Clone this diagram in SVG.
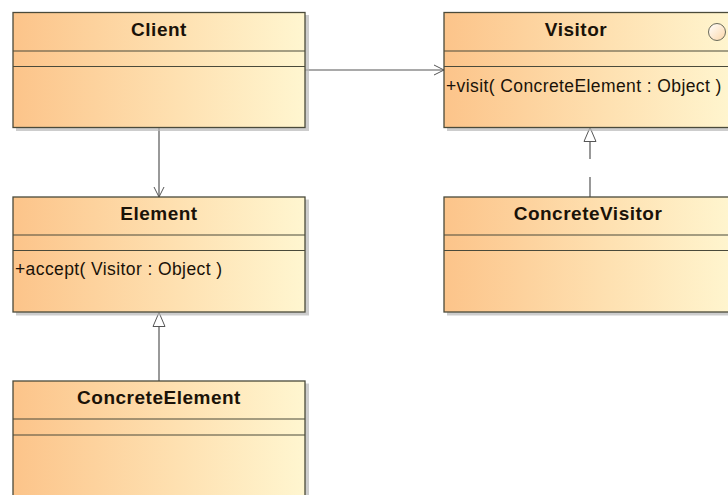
<svg xmlns="http://www.w3.org/2000/svg" width="728" height="495" viewBox="0 0 728 495">
<defs>
<linearGradient id="fill" x1="0" y1="0" x2="1" y2="0">
<stop offset="0" stop-color="#fcc48a"/>
<stop offset="0.55" stop-color="#fee0b0"/>
<stop offset="1" stop-color="#fff6d0"/>
</linearGradient>
<linearGradient id="circ" x1="0" y1="0" x2="1" y2="1">
<stop offset="0" stop-color="#ffffff"/>
<stop offset="1" stop-color="#fcd6a8"/>
</linearGradient>
<marker id="open" viewBox="0 0 12 12" refX="11" refY="6" markerWidth="12" markerHeight="12" markerUnits="userSpaceOnUse" orient="auto">
<path d="M1,1 L11,6 L1,11" fill="none" stroke="#555" stroke-width="1"/>
</marker>
<marker id="tri" viewBox="0 0 16 14" refX="15" refY="7" markerWidth="16" markerHeight="14" markerUnits="userSpaceOnUse" orient="auto">
<path d="M1,1 L15,7 L1,13 Z" fill="#fff" stroke="#555" stroke-width="1"/>
</marker>
</defs>
<style>
.shadow{fill:#b8b8b8;opacity:0.7}
.box{fill:url(#fill);stroke:#4a4a3a;stroke-width:1.3}
.div{stroke:#4a4a3a;stroke-width:1.2}
.title{font-family:"Liberation Sans",Arial,sans-serif;font-weight:bold;font-size:19px;letter-spacing:0.5px;fill:#1a1208;text-anchor:middle}
.op{font-family:"Liberation Sans",Arial,sans-serif;font-size:17.5px;letter-spacing:0.4px;fill:#1a1208}
.edge{fill:none;stroke:#555;stroke-width:1.2}
</style>
<rect width="728" height="495" fill="#fff"/>
<g id="connectors">
<path class="edge" d="M305,70 L444,70" marker-end="url(#open)"/>
<path class="edge" d="M159,128 L159,197" marker-end="url(#open)"/>
<path class="edge" d="M159,381 L159,312.5" marker-end="url(#tri)"/>
<path class="edge" d="M590,197 L590,127.5" stroke-dasharray="20,18" marker-end="url(#tri)"/>
</g>
<g id="Client">
<rect class="shadow" x="16" y="15" width="293" height="116"/>
<rect class="box" x="13" y="12.5" width="292" height="115"/>
<line class="div" x1="13" y1="51" x2="305" y2="51"/>
<line class="div" x1="13" y1="66.5" x2="305" y2="66.5"/>
<text class="title" x="159" y="36">Client</text>
</g>
<g id="Visitor">
<rect class="shadow" x="447" y="15" width="293" height="116"/>
<rect class="box" x="444" y="12.5" width="292" height="115"/>
<line class="div" x1="444" y1="51" x2="736" y2="51"/>
<line class="div" x1="444" y1="66.5" x2="736" y2="66.5"/>
<text class="title" x="576" y="36">Visitor</text>
<circle cx="717" cy="32" r="8.5" fill="url(#circ)" stroke="#6a6a5a" stroke-width="1"/>
<text class="op" x="446" y="92">+visit( ConcreteElement : Object )</text>
</g>
<g id="Element">
<rect class="shadow" x="16" y="199.5" width="293" height="116"/>
<rect class="box" x="13" y="197" width="292" height="115"/>
<line class="div" x1="13" y1="235" x2="305" y2="235"/>
<line class="div" x1="13" y1="250.5" x2="305" y2="250.5"/>
<text class="title" x="159" y="220">Element</text>
<text class="op" x="15" y="275">+accept( Visitor : Object )</text>
</g>
<g id="ConcreteVisitor">
<rect class="shadow" x="447" y="199.5" width="293" height="116"/>
<rect class="box" x="444" y="197" width="292" height="115"/>
<line class="div" x1="444" y1="235" x2="736" y2="235"/>
<line class="div" x1="444" y1="250.5" x2="736" y2="250.5"/>
<text class="title" x="588" y="220">ConcreteVisitor</text>
</g>
<g id="ConcreteElement">
<rect class="shadow" x="16" y="383.5" width="293" height="130"/>
<rect class="box" x="13" y="381" width="292" height="125"/>
<line class="div" x1="13" y1="419" x2="305" y2="419"/>
<line class="div" x1="13" y1="435" x2="305" y2="435"/>
<text class="title" x="159" y="404">ConcreteElement</text>
</g>
</svg>
